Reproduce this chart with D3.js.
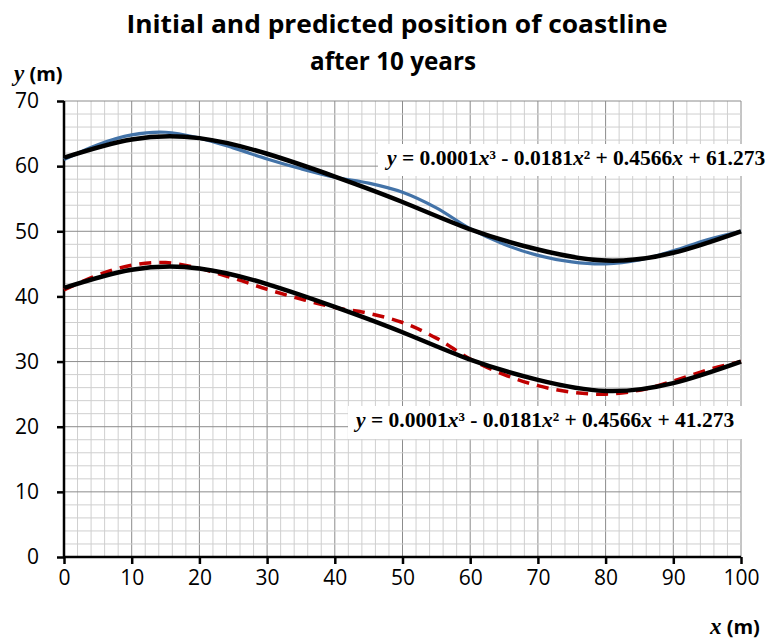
<!DOCTYPE html>
<html>
<head>
<meta charset="utf-8">
<script src="https://cdn.jsdelivr.net/npm/d3@7"></script>
<style>
  body { margin: 0; background: #fff; }
  svg { display: block; }
  .tick text { font-family: "Open Sans", sans-serif; font-size: 21px; fill: #000; }
</style>
</head>
<body>
<div id="chart"></div>
<script>
// x positions of the read-off points (m)
var xInitial = [0, 5, 10, 15, 20, 25, 30, 35, 40, 45, 50, 55, 60, 65, 70, 75, 80, 85, 90, 95, 100];
// initial coastline (blue)
var yInitial = [61.0, 63.3, 64.8, 65.2, 64.3, 62.8, 61.1, 59.6, 58.3, 57.4, 56.0, 53.6, 50.4, 48.0, 46.3, 45.3, 45.0, 45.6, 47.0, 48.7, 50.0];
// predicted coastline after 10 years (red dashed)
var yPredicted = [41.0, 43.3, 44.8, 45.2, 44.3, 42.8, 41.1, 39.6, 38.3, 37.4, 36.0, 33.6, 30.4, 28.0, 26.3, 25.3, 25.0, 25.6, 27.0, 28.7, 30.0];
// cubic trend lines (black), read at every 10 m
var xTrend = [0, 10, 20, 30, 40, 50, 60, 70, 80, 90, 100];
var yTrendInitial = [61.3, 64.1, 64.3, 61.9, 58.4, 54.5, 50.3, 47.2, 45.5, 46.7, 50.0];
var yTrendPredicted = [41.3, 44.1, 44.3, 41.9, 38.4, 34.5, 30.3, 27.2, 25.5, 26.7, 30.0];

var xTicks = [0, 10, 20, 30, 40, 50, 60, 70, 80, 90, 100];
var yTicks = [0, 10, 20, 30, 40, 50, 60, 70];
var eqInitial = ["y", " = 0.0001", "x", "\u00b3 - 0.0181", "x", "\u00b2 + 0.4566", "x", " + 61.273"];
var eqPredicted = ["y", " = 0.0001", "x", "\u00b3 - 0.0181", "x", "\u00b2 + 0.4566", "x", " + 41.273"];

var svgWidth = 781;
var svgHeight = 640;
var margin = { top: 101, right: 40, bottom: 83, left: 64 };
var width = svgWidth - margin.left - margin.right;
var height = svgHeight - margin.top - margin.bottom;

var svg = d3.select("#chart").append("svg")
  .attr("width", svgWidth)
  .attr("height", svgHeight);

var chartGroup = svg.append("g")
  .attr("transform", `translate(${margin.left}, ${margin.top})`);

var xScale = d3.scaleLinear().domain([0, 100]).range([0, width]);
var yScale = d3.scaleLinear().domain([0, 70]).range([height, 0]);

// minor grid every 2 m, major every 10 m
chartGroup.append("g")
  .selectAll("line")
  .data(d3.range(0, 101, 2))
  .enter().append("line")
  .attr("x1", d => xScale(d)).attr("x2", d => xScale(d))
  .attr("y1", 0).attr("y2", height)
  .attr("stroke", d => d % 10 === 0 ? "#8c8c8c" : "#cfcfcf")
  .attr("stroke-width", 1);

chartGroup.append("g")
  .selectAll("line")
  .data(d3.range(0, 71, 2))
  .enter().append("line")
  .attr("x1", 0).attr("x2", width)
  .attr("y1", d => yScale(d)).attr("y2", d => yScale(d))
  .attr("stroke", d => d % 10 === 0 ? "#8c8c8c" : "#cfcfcf")
  .attr("stroke-width", 1);

// axes
var bottomAxis = d3.axisBottom(xScale).tickValues(xTicks).tickSize(7).tickPadding(6);
var leftAxis = d3.axisLeft(yScale).tickValues(yTicks).tickSize(7).tickPadding(18);

var gx = chartGroup.append("g")
  .attr("transform", `translate(0, ${height})`)
  .call(bottomAxis);
var gy = chartGroup.append("g").call(leftAxis);

[gx, gy].forEach(function(g) {
  g.select(".domain").remove();
  g.selectAll(".tick line").attr("stroke", "#000").attr("stroke-width", 2.5);
});

chartGroup.append("line")
  .attr("x1", 0).attr("x2", 0).attr("y1", 0).attr("y2", height)
  .attr("stroke", "#000").attr("stroke-width", 2.5);
chartGroup.append("line")
  .attr("x1", -1).attr("x2", width).attr("y1", height).attr("y2", height)
  .attr("stroke", "#000").attr("stroke-width", 2.5);

// lines
var line = d3.line()
  .x(d => xScale(d[0]))
  .y(d => yScale(d[1]))
  .curve(d3.curveCatmullRom.alpha(0.5));

chartGroup.append("path")
  .datum(d3.zip(xInitial, yInitial))
  .attr("d", line)
  .attr("fill", "none")
  .attr("stroke", "#4373a8")
  .attr("stroke-width", 3.2);

chartGroup.append("path")
  .datum(d3.zip(xInitial, yPredicted))
  .attr("d", line)
  .attr("fill", "none")
  .attr("stroke", "#c00000")
  .attr("stroke-width", 3.5)
  .attr("stroke-dasharray", "12,8");

var trendLine = d3.line()
  .x(d => xScale(d[0]))
  .y(d => yScale(d[1]))
  .curve(d3.curveNatural);

[yTrendInitial, yTrendPredicted].forEach(function(ys) {
  chartGroup.append("path")
    .datum(d3.zip(xTrend, ys))
    .attr("d", trendLine)
    .attr("fill", "none")
    .attr("stroke", "#000")
    .attr("stroke-width", 4.5);
});

// trend equations with white boxes
function equation(parts, x, y, box) {
  svg.append("rect")
    .attr("x", box[0]).attr("y", box[1])
    .attr("width", box[2]).attr("height", box[3])
    .attr("fill", "#fff");
  var t = svg.append("text")
    .attr("x", x).attr("y", y)
    .attr("font-family", "'Liberation Serif', 'Times New Roman', serif")
    .attr("font-weight", "bold")
    .attr("font-size", 21.5)
    .attr("fill", "#000");
  parts.forEach(function(p) {
    t.append("tspan")
      .attr("font-style", (p === "x" || p === "y") ? "italic" : "normal")
      .text(p);
  });
}
equation(eqInitial, 387, 165, [378, 144, 400, 32]);
equation(eqPredicted, 356, 427, [348, 406, 398, 33]);

// title
svg.append("text")
  .attr("x", 397).attr("y", 33)
  .attr("text-anchor", "middle")
  .attr("font-family", "'Open Sans', sans-serif")
  .attr("font-weight", "bold")
  .attr("font-size", 25)
  .attr("textLength", 541)
  .attr("lengthAdjust", "spacingAndGlyphs")
  .text("Initial and predicted position of coastline");
svg.append("text")
  .attr("x", 393).attr("y", 70)
  .attr("text-anchor", "middle")
  .attr("font-family", "'Open Sans', sans-serif")
  .attr("font-weight", "bold")
  .attr("font-size", 25)
  .attr("textLength", 166)
  .attr("lengthAdjust", "spacingAndGlyphs")
  .text("after 10 years");

// axis titles
function axisTitle(letter, x, y) {
  var t = svg.append("text").attr("x", x).attr("y", y).attr("fill", "#000");
  t.append("tspan")
    .attr("font-family", "'Liberation Serif', serif")
    .attr("font-style", "italic")
    .attr("font-weight", "bold")
    .attr("font-size", 23)
    .text(letter);
  t.append("tspan")
    .attr("font-family", "'Open Sans', sans-serif")
    .attr("font-weight", "bold")
    .attr("font-size", 20)
    .text(" (m)");
}
axisTitle("y", 14, 81);
axisTitle("x", 710, 634);
</script>
</body>
</html>
